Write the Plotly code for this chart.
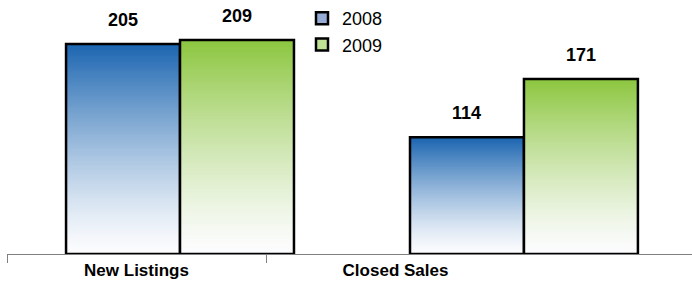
import plotly.graph_objects as go

categories = ["New Listings", "Closed Sales"]
series_names = ["2008", "2009"]
values_2008 = [205, 114]
values_2009 = [209, 171]

TOP_COLORS = [(27, 101, 176), (140, 198, 63)]
LEGEND_COLORS = ["rgb(150,172,215)", "rgb(190,225,150)"]
BOTTOM = (252, 252, 254)
N_SEG = 90

GROUP0 = 0.168
GROUP_STEP = 1.328
BAR_W = 0.44

fig = go.Figure()
annotations = []
for s_idx, (name, vals) in enumerate(zip(series_names, [values_2008, values_2009])):
    offset = (s_idx - 0.5) * BAR_W
    xs = [GROUP0 + GROUP_STEP * i + offset for i in range(len(categories))]
    seg_x, seg_base, seg_h, seg_c = [], [], [], []
    top = TOP_COLORS[s_idx]
    for x, v in zip(xs, vals):
        step = v / N_SEG
        for k in range(N_SEG):
            t = ((k + 0.5) / N_SEG) ** 1.3
            c = tuple(round(BOTTOM[j] + (top[j] - BOTTOM[j]) * t) for j in range(3))
            base = step * k
            seg_x.append(x)
            seg_base.append(base)
            seg_h.append(min(step * 1.8, v - base))
            seg_c.append("rgb(%d,%d,%d)" % c)
    fig.add_trace(go.Bar(
        x=seg_x, y=seg_h, base=seg_base, width=BAR_W,
        marker=dict(color=seg_c, line=dict(width=0)),
        showlegend=False, hoverinfo="skip"))
    fig.add_trace(go.Bar(
        x=xs, y=vals, width=BAR_W,
        marker=dict(color="rgba(0,0,0,0)", line=dict(color="black", width=2.5)),
        showlegend=False, hoverinfo="skip"))
    fig.add_trace(go.Bar(
        x=[None], y=[None], name=name,
        marker=dict(color=LEGEND_COLORS[s_idx], line=dict(color="black", width=2.5)),
        showlegend=True))
    for x, v in zip(xs, vals):
        annotations.append(dict(
            x=x, y=v, xref="x", yref="y", text=str(v), showarrow=False,
            yanchor="bottom", yshift=12,
            font=dict(family="Liberation Sans, Arial", size=18, color="black", weight="bold")))

fig.update_layout(
    width=692, height=292,
    margin=dict(l=7, r=0, t=0, b=38),
    paper_bgcolor="white", plot_bgcolor="white",
    barmode="overlay",
    annotations=annotations,
    legend=dict(x=(302 - 7) / 685, y=1.0, xanchor="left", yanchor="top",
                font=dict(family="Liberation Sans, Arial", size=18, color="black"),
                itemwidth=30, tracegroupgap=0, bgcolor="rgba(0,0,0,0)"),
    xaxis=dict(
        range=[-0.5, -0.5 + 685 / 259], showgrid=False, zeroline=False,
        showline=True, linecolor="#808080", linewidth=1,
        tickmode="array", tickvals=list(range(len(categories))), ticktext=categories,
        ticks="", ticklabelstandoff=1,
        tickfont=dict(family="Liberation Sans, Arial", size=17, color="black", weight="bold"),
        minor=dict(tickmode="array", tickvals=[-0.5, 0.5], ticks="outside", ticklen=8,
                   tickcolor="#808080", tickwidth=1, showgrid=False),
    ),
    yaxis=dict(range=[0, 254 / 1.024], visible=False),
    showlegend=True,
)

fig.write_html("out.html", config={"displayModeBar": False},
               post_script="document.body.style.margin='0';")
